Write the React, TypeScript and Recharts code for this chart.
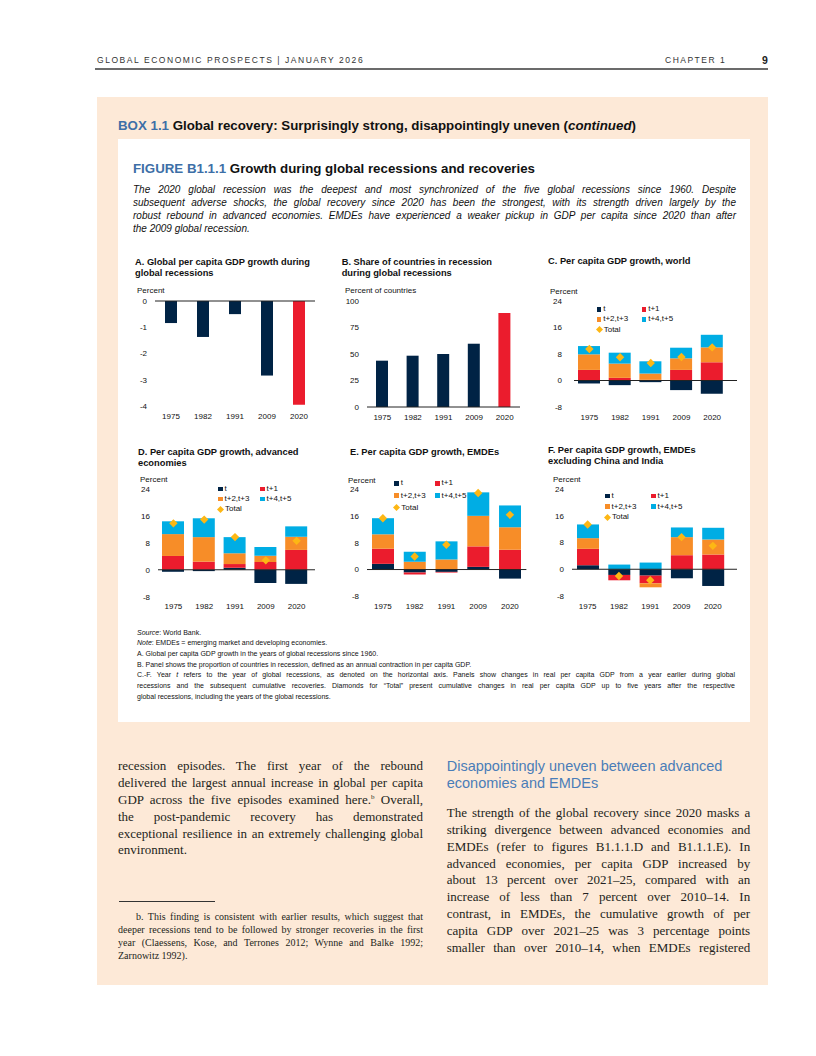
import React from "react";
import {
  BarChart,
  ComposedChart,
  Bar,
  Line,
  XAxis,
  YAxis,
  ReferenceLine,
  Cell,
} from "recharts";

// ---- data ----
const years = ["1975", "1982", "1991", "2009", "2020"];
const highlightYear = "2020";

// A. global per capita GDP growth in recession years (percent)
const globalGrowth = [-0.84, -1.37, -0.5, -2.84, -3.95];
// B. share of countries in recession (percent of countries)
const shareInRecession = [43.7, 48.4, 50, 59.7, 88.7];

const seriesKeys = ["t", "t1", "t23", "t45"];
const seriesLabels = ["t", "t+1", "t+2,t+3", "t+4,t+5"];
const totalLabel = "Total";

// C. world
const worldT = [-0.9, -1.4, -0.5, -2.9, -4.0];
const worldT1 = [3.2, 0.8, 0.2, 3.2, 5.5];
const worldT23 = [4.7, 4.3, 1.9, 3.5, 4.5];
const worldT45 = [2.5, 3.3, 3.7, 3.2, 3.8];
const worldTotal = [9.5, 7.0, 5.3, 7.1, 10.0];

// D. advanced economies
const aeT = [-0.6, -0.4, 0.6, -3.9, -4.2];
const aeT1 = [4.1, 2.4, 1.1, 2.3, 5.9];
const aeT23 = [6.5, 7.3, 3.2, 1.9, 3.9];
const aeT45 = [3.8, 5.6, 4.8, 2.6, 3.1];
const aeTotal = [13.8, 14.9, 9.7, 2.8, 8.6];

// E. EMDEs
const emT = [1.7, -0.9, -0.7, 0.8, -2.7];
const emT1 = [4.5, -0.6, -0.2, 6.1, 5.9];
const emT23 = [4.3, 2.3, 3.0, 9.1, 6.7];
const emT45 = [4.8, 3.0, 5.4, 7.0, 6.5];
const emTotal = [15.3, 3.9, 7.4, 22.8, 16.3];

// F. EMDEs excluding China and India
const exT = [1.2, -1.7, -1.9, -2.7, -5.0];
const exT1 = [4.9, -1.6, -2.3, 4.2, 4.4];
const exT23 = [3.2, 0, -1.2, 5.4, 4.5];
const exT45 = [4.1, 1.4, 2.0, 2.9, 3.5];
const exTotal = [13.4, -2.0, -3.3, 9.6, 7.0];

const ticksA = [-4, -3, -2, -1, 0];
const ticksB = [0, 25, 50, 75, 100];
const ticksStack = [-8, 0, 8, 16, 24];

// ---- styles ----
const NAVY = "#002345";
const RED = "#EB1C2D";
const ORANGE = "#F78D28";
const CYAN = "#00ADE4";
const GOLD = "#FDB714";
const seriesColors = [NAVY, RED, ORANGE, CYAN];

const SANS = "'Liberation Sans', Arial, sans-serif";
const SERIF = "'Liberation Serif', 'Times New Roman', serif";
const BLUE = "#3D6FA7";
const INK = "#231F20";

const tickStyle = { fontSize: 8, fill: "#111", fontFamily: SANS };

type Geo = { left: number; right: number; top: number; bottom: number; padRight?: number };

const frame = (g: Geo, yw: number) => {
  const mt = 6;
  const mr = 4;
  const xh = 18;
  return {
    left: g.left - yw,
    top: g.top - mt,
    width: yw + (g.right - g.left) + mr,
    height: mt + (g.bottom - g.top) + xh,
    margin: { top: mt, right: mr, bottom: 0, left: 0 },
  };
};

const Label = ({ x, y, children, size = 8, bold = false, lh = 10.6 }: any) => (
  <div
    style={{
      position: "absolute",
      left: x,
      top: y - lh / 2,
      fontSize: size,
      lineHeight: `${lh}px`,
      fontWeight: bold ? 700 : 400,
      fontFamily: SANS,
      color: "#111",
      whiteSpace: "nowrap",
    }}
  >
    {children}
  </div>
);

const Diamond = (p: any) => {
  const { cx, cy } = p;
  if (cx == null || cy == null) return <g key={p.index} />;
  const r = 4.2;
  return (
    <path
      key={p.index}
      d={`M${cx},${cy - r}L${cx + r},${cy}L${cx},${cy + r}L${cx - r},${cy}Z`}
      fill={GOLD}
    />
  );
};

function SimplePanel({ values, geo, domain, ticks }: any) {
  const data = years.map((year, i) => ({ year, value: values[i] }));
  const f = frame(geo, 30);
  return (
    <div style={{ position: "absolute", left: f.left, top: f.top }}>
      <BarChart width={f.width} height={f.height} data={data} margin={f.margin}>
        <XAxis
          dataKey="year"
          axisLine={false}
          tickLine={false}
          tickSize={5}
          height={18}
          interval={0}
          tick={tickStyle}
        />
        <YAxis
          type="number"
          domain={domain}
          ticks={ticks}
          interval={0}
          width={30}
          axisLine={false}
          tickLine={false}
          tick={tickStyle}
        />
        <Bar dataKey="value" barSize={12} isAnimationActive={false}>
          {data.map((d) => (
            <Cell key={d.year} fill={d.year === highlightYear ? RED : NAVY} />
          ))}
        </Bar>
        <ReferenceLine y={0} stroke="#222" strokeWidth={1} />
      </BarChart>
    </div>
  );
}

function StackPanel({ parts, total, geo, yGap = 8 }: any) {
  const data = years.map((year, i) => {
    const row: any = { year, total: total[i] };
    seriesKeys.forEach((k, j) => (row[k] = parts[j][i]));
    return row;
  });
  const yw = 26;
  const f = frame(geo, yw);
  return (
    <div style={{ position: "absolute", left: f.left, top: f.top }}>
      <ComposedChart
        width={f.width}
        height={f.height}
        data={data}
        margin={f.margin}
        stackOffset="sign"
      >
        <XAxis
          dataKey="year"
          axisLine={false}
          tickLine={false}
          tickSize={5}
          height={18}
          interval={0}
          padding={{ left: 0, right: geo.padRight || 0 }}
          tick={tickStyle}
        />
        <YAxis
          type="number"
          domain={[-8, 24]}
          ticks={ticksStack}
          interval={0}
          width={yw}
          axisLine={false}
          tickLine={false}
          tickMargin={yGap - 6}
          tick={tickStyle}
        />
        {seriesKeys.map((k, j) => (
          <Bar
            key={k}
            dataKey={k}
            stackId="a"
            barSize={22}
            fill={seriesColors[j]}
            isAnimationActive={false}
          />
        ))}
        <ReferenceLine y={0} stroke="#222" strokeWidth={1} />
        <Line
          dataKey="total"
          stroke="none"
          dot={(p: any) => <Diamond key={p.index} {...p} />}
          activeDot={false}
          isAnimationActive={false}
        />
      </ComposedChart>
    </div>
  );
}

function StackLegend({ x1, x2, y, gap }: any) {
  const item = (i: number, x: number, yy: number) => (
    <div
      key={seriesKeys[i]}
      style={{ position: "absolute", left: x, top: yy - 5, height: 10, display: "flex", alignItems: "center" }}
    >
      <div style={{ width: 4.5, height: 4.5, background: seriesColors[i], marginRight: 2 }} />
      <span style={{ fontSize: 8, fontFamily: SANS, color: "#111", lineHeight: "10px" }}>
        {seriesLabels[i]}
      </span>
    </div>
  );
  return (
    <>
      {item(0, x1, y)}
      {item(1, x2, y)}
      {item(2, x1, y + gap)}
      {item(3, x2, y + gap)}
      <div
        style={{ position: "absolute", left: x1 - 1, top: y + 2 * gap - 5, height: 10, display: "flex", alignItems: "center" }}
      >
        <svg width={7} height={7} style={{ marginRight: 1 }}>
          <path d="M3.5,0L7,3.5L3.5,7L0,3.5Z" fill={GOLD} />
        </svg>
        <span style={{ fontSize: 8, fontFamily: SANS, color: "#111", lineHeight: "10px" }}>
          {totalLabel}
        </span>
      </div>
    </>
  );
}

const JLine = ({ x, y, w, size, lh, last, italic, font, children, color = INK }: any) => (
  <div
    style={{
      position: "absolute",
      left: x,
      top: y - lh / 2,
      width: w,
      fontSize: size,
      lineHeight: `${lh}px`,
      fontFamily: font,
      fontStyle: italic ? "italic" : "normal",
      textAlign: "justify",
      textAlignLast: last ? "left" : "justify",
      color,
    }}
  >
    {children}
  </div>
);

const subtitle = [
  "The 2020 global recession was the deepest and most synchronized of the five global recessions since 1960. Despite",
  "subsequent adverse shocks, the global recovery since 2020 has been the strongest, with its strength driven largely by the",
  "robust rebound in advanced economies. EMDEs have experienced a weaker pickup in GDP per capita since 2020 than after",
  "the 2009 global recession.",
];

const leftCol = [
  "recession episodes. The first year of the rebound",
  "delivered the largest annual increase in global per capita",
  "GDP across the five episodes examined here.",
  "the post-pandemic recovery has demonstrated",
  "exceptional resilience in an extremely challenging global",
  "environment.",
];

const rightCol = [
  "The strength of the global recovery since 2020 masks a",
  "striking divergence between advanced economies and",
  "EMDEs (refer to figures B1.1.1.D and B1.1.1.E). In",
  "advanced economies, per capita GDP increased by",
  "about 13 percent over 2021\u201325, compared with an",
  "increase of less than 7 percent over 2010\u201314. In",
  "contrast, in EMDEs, the cumulative growth of per",
  "capita GDP over 2021\u201325 was 3 percentage points",
  "smaller than over 2010\u201314, when EMDEs registered",
];

const footnote = [
  "b. This finding is consistent with earlier results, which suggest that",
  "deeper recessions tend to be followed by stronger recoveries in the first",
  "year (Claessens, Kose, and Terrones 2012; Wynne and Balke 1992;",
  "Zarnowitz 1992).",
];

export default function App() {
  const noteY = [633, 643.7, 654.3, 665, 675.6, 686.2, 696.8];
  const noteStyle: any = { size: 7, lh: 10.6, font: SANS, color: "#111" };
  return (
    <div
      style={{
        position: "absolute",
        left: 0,
        top: 0,
        width: 816,
        height: 1056,
        background: "#fff",
        overflow: "hidden",
        fontFamily: SANS,
      }}
    >
      {/* running header */}
      <div style={{ position: "absolute", left: 97, top: 54, fontSize: 8.5, letterSpacing: 1.55, color: "#333", lineHeight: "12px", whiteSpace: "nowrap" }}>
        GLOBAL ECONOMIC PROSPECTS | JANUARY 2026
      </div>
      <div style={{ position: "absolute", left: 665, top: 54, fontSize: 8.5, letterSpacing: 1.5, color: "#333", lineHeight: "12px" }}>
        CHAPTER 1
      </div>
      <div style={{ position: "absolute", left: 762, top: 53, fontSize: 10.5, fontWeight: 700, color: "#222", lineHeight: "14px" }}>
        9
      </div>
      <div style={{ position: "absolute", left: 95, top: 67.5, width: 673, height: 2, background: "#6b6b6b" }} />

      {/* box */}
      <div style={{ position: "absolute", left: 97, top: 97, width: 671, height: 888, background: "#FDE9D7" }} />
      <div style={{ position: "absolute", left: 118, top: 118, fontSize: 13.3, fontWeight: 700, fontFamily: SANS, lineHeight: "16px", color: "#111", whiteSpace: "nowrap" }}>
        <span style={{ color: BLUE }}>BOX 1.1</span> Global recovery: Surprisingly strong, disappointingly uneven (
        <i>continued</i>)
      </div>
      <div style={{ position: "absolute", left: 118, top: 139, width: 632, height: 583, background: "#fff" }} />
      <div style={{ position: "absolute", left: 133, top: 161, fontSize: 13.3, fontWeight: 700, fontFamily: SANS, lineHeight: "16px", color: "#111", whiteSpace: "nowrap" }}>
        <span style={{ color: BLUE }}>FIGURE B1.1.1</span> Growth during global recessions and recoveries
      </div>
      {subtitle.map((s, i) => (
        <JLine key={i} x={133} y={189 + i * 13} w={603} size={10} lh={13} italic font={SANS} color="#111" last={i === subtitle.length - 1}>
          {s}
        </JLine>
      ))}

      {/* panel titles and unit labels */}
      <Label x={135} y={262.7} size={9.3} bold>A. Global per capita GDP growth during</Label>
      <Label x={135} y={273.3} size={9.3} bold>global recessions</Label>
      <Label x={341.7} y={262.7} size={9.3} bold>B. Share of countries in recession</Label>
      <Label x={341.7} y={273.3} size={9.3} bold>during global recessions</Label>
      <Label x={548} y={261.7} size={9.3} bold>C. Per capita GDP growth, world</Label>
      <Label x={138} y={452.7} size={9.3} bold>D. Per capita GDP growth, advanced</Label>
      <Label x={138} y={463.3} size={9.3} bold>economies</Label>
      <Label x={350} y={452.7} size={9.3} bold>E. Per capita GDP growth, EMDEs</Label>
      <Label x={548} y={450} size={9.3} bold>F. Per capita GDP growth, EMDEs</Label>
      <Label x={548} y={461.7} size={9.3} bold>excluding China and India</Label>

      <Label x={137} y={291.7}>Percent</Label>
      <Label x={345} y={291.7}>Percent of countries</Label>
      <Label x={550} y={292}>Percent</Label>
      <Label x={140} y={480.7}>Percent</Label>
      <Label x={348} y={481}>Percent</Label>
      <Label x={553} y={480.7}>Percent</Label>

      {/* charts */}
      <SimplePanel values={globalGrowth} geo={{ left: 155, right: 315, top: 300.7, bottom: 405.7 }} domain={[-4, 0]} ticks={ticksA} />
      <SimplePanel values={shareInRecession} geo={{ left: 367, right: 520, top: 300.7, bottom: 406.7 }} domain={[0, 100]} ticks={ticksB} />
      <StackPanel
        parts={[worldT, worldT1, worldT23, worldT45]}
        total={worldTotal}
        geo={{ left: 574, right: 737, padRight: 9.5, top: 300.7, bottom: 406.7 }}
        yGap={12}
      />
      <StackPanel
        parts={[aeT, aeT1, aeT23, aeT45]}
        total={aeTotal}
        geo={{ left: 158, right: 315, padRight: 3, top: 489, bottom: 596.7 }}
      />
      <StackPanel
        parts={[emT, emT1, emT23, emT45]}
        total={emTotal}
        geo={{ left: 366.6, right: 526, padRight: 0.6, top: 489.3, bottom: 596.7 }}
      />
      <StackPanel
        parts={[exT, exT1, exT23, exT45]}
        total={exTotal}
        geo={{ left: 572, right: 737, padRight: 8.5, top: 489, bottom: 596 }}
      />

      <StackLegend x1={596.7} x2={641.7} y={309.3} gap={10.1} />
      <StackLegend x1={218} x2={260} y={489} gap={10} />
      <StackLegend x1={394.3} x2={435} y={483.3} gap={12.3} />
      <StackLegend x1={605} x2={651} y={496} gap={10.7} />

      {/* notes */}
      <JLine x={137} y={noteY[0]} w={600} last {...noteStyle}><i>Source</i>: World Bank.</JLine>
      <JLine x={137} y={noteY[1]} w={600} last {...noteStyle}><i>Note</i>: EMDEs = emerging market and developing economies.</JLine>
      <JLine x={137} y={noteY[2]} w={600} last {...noteStyle}>A. Global per capita GDP growth in the years of global recessions since 1960.</JLine>
      <JLine x={137} y={noteY[3]} w={600} last {...noteStyle}>B. Panel shows the proportion of countries in recession, defined as an annual contraction in per capita GDP.</JLine>
      <JLine x={137} y={noteY[4]} w={598} {...noteStyle}>
        C.-F. Year <i>t</i> refers to the year of global recessions, as denoted on the horizontal axis. Panels show changes in real per capita GDP from a year earlier during global
      </JLine>
      <JLine x={137} y={noteY[5]} w={598} {...noteStyle}>
        recessions and the subsequent cumulative recoveries. Diamonds for {"\u201cTotal\u201d"} present cumulative changes in real per capita GDP up to five years after the respective
      </JLine>
      <JLine x={137} y={noteY[6]} w={598} last {...noteStyle}>global recessions, including the years of the global recessions.</JLine>

      {/* body text, left column */}
      {leftCol.map((s, i) => (
        <JLine key={i} x={118} y={766.7 + i * 16.8} w={305} size={13} lh={16.8} font={SERIF} last={i === leftCol.length - 1}>
          {i === 2 ? (
            <>
              {s}
              <sup style={{ fontSize: 7, lineHeight: 0 }}>b</sup> Overall,
            </>
          ) : (
            s
          )}
        </JLine>
      ))}
      <div style={{ position: "absolute", left: 119, top: 900.5, width: 96, height: 1, background: "#333" }} />
      {footnote.map((s, i) => (
        <JLine
          key={i}
          x={i === 0 ? 136 : 118}
          y={916.7 + i * 13}
          w={i === 0 ? 287 : 305}
          size={10}
          lh={13}
          font={SERIF}
          last={i === footnote.length - 1}
        >
          {s}
        </JLine>
      ))}

      {/* body text, right column */}
      <div style={{ position: "absolute", left: 446.7, top: 758, fontSize: 14.5, lineHeight: "16.6px", color: "#4A7DB8", fontFamily: SANS }}>
        Disappointingly uneven between advanced
        <br />
        economies and EMDEs
      </div>
      {rightCol.map((s, i) => (
        <JLine key={i} x={446.7} y={813.3 + i * 16.9} w={303.5} size={13} lh={16.9} font={SERIF}>
          {s}
        </JLine>
      ))}
    </div>
  );
}
